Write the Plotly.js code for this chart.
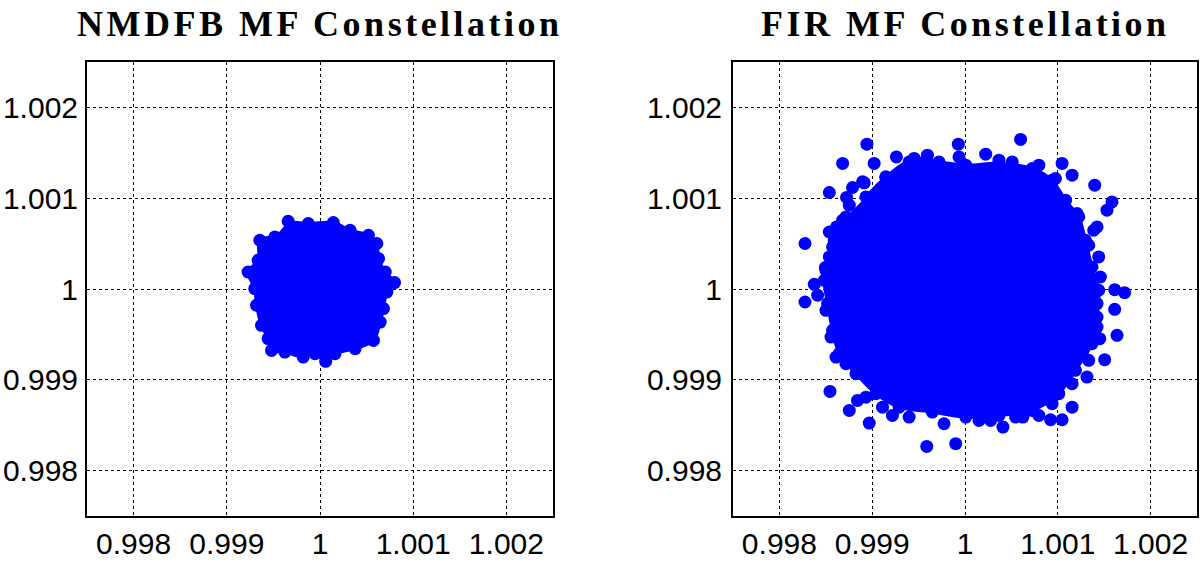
<!DOCTYPE html>
<html>
<head>
<meta charset="utf-8">
<script src="https://cdn.plot.ly/plotly-3.0.1.min.js"></script>
<style>
  html, body { margin: 0; padding: 0; background: #fff; }
  #chart { width: 1200px; height: 564px; }
  /* titles in the original have a wide letter spacing */
  .annotation-text { letter-spacing: 3.5px; }
</style>
</head>
<body>
<div id="chart"></div>
<script>
// ------------------------------------------------------------
// constellation plots: NMDFB vs FIR matched filter
// ------------------------------------------------------------

const TICK_VALS = [0.998, 0.999, 1, 1.001, 1.002];
const TICK_TEXT = ["0.998", "0.999", "1", "1.001", "1.002"];
const AXIS_RANGE = [0.9975, 1.0025];
const TITLES = ["NMDFB MF Constellation", "FIR MF Constellation"];

// NMDFB: outline of the dense cloud (centres of edge points)
const nmdfbEdgeX = [0.999659, 0.999874, 1.000143, 1.000323, 1.000520, 1.000610, 1.000628, 1.000700,
  1.000800, 1.000718, 1.000681, 1.000646, 1.000574, 1.000377, 1.000161, 1.000061, 0.999946, 0.999820,
  0.999623, 0.999480, 0.999443, 0.999372, 0.999319, 0.999300, 0.999228, 0.999336, 0.999354, 0.999516];
const nmdfbEdgeY = [1.000746, 1.000721, 1.000732, 1.000647, 1.000592, 1.000501, 1.000335, 1.000187,
  1.000071, 0.999967, 0.999784, 0.999636, 0.999434, 0.999343, 0.999288, 0.999203, 0.999288, 0.999250,
  0.999305, 0.999324, 0.999453, 0.999600, 0.999820, 1.000004, 1.000187, 1.000316, 1.000537, 1.000573];

// FIR: outline of the dense cloud
const firEdgeX = [0.998932, 0.999147, 0.999452, 0.999720, 1.000008, 1.000366, 1.000724, 1.000939,
  1.001083, 1.001226, 1.001298, 1.001369, 1.001441, 1.001423, 1.001369, 1.001190, 1.001011, 1.000724,
  1.000366, 1.000008, 0.999648, 0.999290, 0.999040, 0.998825, 0.998645, 0.998573, 0.998519, 0.998484,
  0.998538, 0.998610, 0.998717];
const firEdgeY = [1.001014, 1.001235, 1.001438, 1.001400, 1.001364, 1.001383, 1.001327, 1.001198,
  1.000978, 1.000794, 1.000537, 1.000243, 0.999986, 0.999691, 0.999398, 0.999104, 0.998847, 0.998663,
  0.998608, 0.998589, 0.998644, 0.998699, 0.998847, 0.999067, 0.999288, 0.999545, 0.999839, 1.000096,
  1.000353, 1.000611, 1.000794];

// FIR: loose points round the dense cloud
const firOutX = [0.998943, 0.999928, 1.000599, 0.998681, 0.999021, 0.999261, 1.000223, 1.001046,
  1.001398, 0.998538, 0.998788, 1.001154, 1.001584, 1.001530, 0.998276, 1.001423, 0.998495, 0.998376,
  0.998276, 1.001720, 1.001613, 1.001613, 1.001638, 1.001505, 1.001315, 0.998545, 0.998753, 0.998842,
  0.998968, 0.999588, 0.999900, 1.000409, 1.001046, 1.001154, 1.000922, 1.000624, 0.999774, 1.000276,
  0.998724, 0.998914, 0.999147, 0.998538, 0.998616, 1.000796, 0.998610, 0.999111, 0.999218, 1.000796,
  1.001441, 1.001459, 1.001333, 1.001452, 0.998412, 0.998573, 0.998753, 0.999595, 1.000509,
  0.998896, 0.999398, 0.999935, 1.000366, 1.000975, 1.001208, 1.001387, 1.001423, 1.001423, 1.001333,
  1.001154, 1.000939, 1.000545, 1.000151, 0.999398, 0.998932, 0.998717, 0.998556, 0.998502, 0.998502,
  0.998591, 0.998681];
const firOutY = [1.001595, 1.001595, 1.001647, 1.001383, 1.001383, 1.001455, 1.001485, 1.001383,
  1.001143, 1.001063, 1.001118, 1.001254, 1.000959, 1.000868, 1.000501, 1.000684, 1.000236, 1.000052,
  0.999857, 0.999960, 0.999993, 0.999776, 0.999490, 0.999222, 0.999030, 0.998872, 0.998663, 0.998773,
  0.998523, 0.998266, 0.998296, 0.998479, 0.998560, 0.998699, 0.998560, 0.998589, 0.998516, 0.998552,
  1.001008, 1.001169, 1.001228, 1.000628, 1.000684, 1.001364, 0.999250, 0.998699, 0.998608, 0.998608,
  1.000353, 1.000132, 1.000482, 0.999453, 0.999931, 1.000463, 1.000923, 1.001474, 1.001400,
  1.001180, 1.001400, 1.001455, 1.001419, 1.001217, 1.000831, 1.000647, 0.999839, 0.999581, 0.999214,
  0.998957, 0.998737, 0.998589, 0.998552, 0.998589, 0.998809, 0.999178, 0.999471, 0.999765, 1.000206,
  1.000537, 1.000757];

const BLUE = "#0000FF";
const MARKER = { color: BLUE, size: 13, line: { width: 0 } };
const TICK_FONT = { family: "Liberation Sans, Arial, sans-serif", size: 30, color: "#000" };
const TITLE_FONT = { family: "Liberation Serif, Times New Roman, serif", size: 36, color: "#000", weight: 700 };

function axisStyle(domain, anchor, standoff) {
  return {
    domain: domain,
    anchor: anchor,
    range: AXIS_RANGE,
    tickmode: "array",
    tickvals: TICK_VALS,
    ticktext: TICK_TEXT,
    tickfont: TICK_FONT,
    ticks: "",
    ticklabelstandoff: standoff,
    showgrid: true,
    gridcolor: "#000",
    gridwidth: 1,
    griddash: "dot",
    zeroline: false,
    showline: true,
    mirror: true,
    linecolor: "#000",
    linewidth: 2,
  };
}

function cloudTraces(edgeX, edgeY, outX, outY, xa, ya) {
  const traces = [{
    x: edgeX, y: edgeY, xaxis: xa, yaxis: ya,
    type: "scatter", mode: "lines+markers",
    fill: "toself", fillcolor: BLUE,
    line: { color: BLUE, width: 3, shape: "spline" },
    marker: MARKER, hoverinfo: "skip",
  }];
  if (outX.length) {
    traces.push({
      x: outX, y: outY, xaxis: xa, yaxis: ya,
      type: "scatter", mode: "markers", marker: MARKER,
    });
  }
  return traces;
}

const data = [
  ...cloudTraces(nmdfbEdgeX, nmdfbEdgeY, [], [], "x", "y"),
  ...cloudTraces(firEdgeX, firEdgeY, firOutX, firOutY, "x2", "y2"),
];

const yDomain = [1 - 516 / 564, 1 - 62 / 564];
const layout = {
  width: 1200, height: 564,
  paper_bgcolor: "#fff", plot_bgcolor: "#fff",
  margin: { l: 0, r: 0, t: 0, b: 0 },
  showlegend: false,
  xaxis: axisStyle([87 / 1200, 553 / 1200], "y", 0),
  yaxis: axisStyle(yDomain, "x", 1),
  xaxis2: axisStyle([733 / 1200, 1197 / 1200], "y2", 0),
  yaxis2: axisStyle(yDomain, "x2", 3),
  annotations: [
    { text: TITLES[0], xref: "paper", yref: "paper", x: 320 / 1200, y: 1 - 24 / 564,
      xanchor: "center", yanchor: "middle", showarrow: false, font: TITLE_FONT },
    { text: TITLES[1], xref: "paper", yref: "paper", x: 965 / 1200, y: 1 - 24 / 564,
      xanchor: "center", yanchor: "middle", showarrow: false, font: TITLE_FONT },
  ],
};

Plotly.newPlot("chart", data, layout, { displayModeBar: false, staticPlot: true });
</script>
</body>
</html>
